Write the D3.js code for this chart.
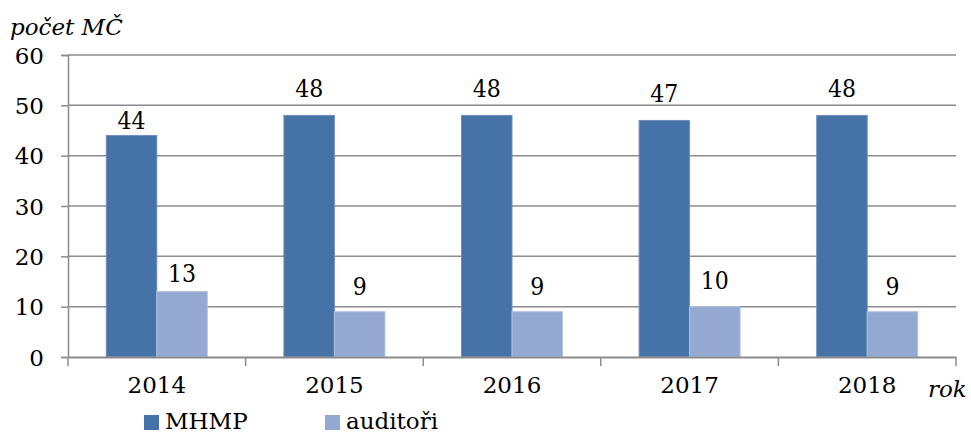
<!DOCTYPE html>
<html><head><meta charset="utf-8">
<script src="https://cdn.jsdelivr.net/npm/d3@7"></script>
<style>body{margin:0;background:#fff}svg{display:block}text{font-family:"DejaVu Serif",serif;fill:#000}
.lbl{font-family:"DejaVu Serif Condensed","DejaVu Serif",serif;font-stretch:condensed}</style>
</head><body>
<svg id="c" width="971" height="434"></svg>
<script>
const categories = ["2014","2015","2016","2017","2018"];
const seriesNames = ["MHMP","auditoři"];
const mhmp = [44,48,48,47,48];
const auditori = [13,9,9,10,9];
const yTicks = [0,10,20,30,40,50,60];
const colors = ["#4572a7","#93a9d1"];
// label lift above bar top (px), per category, per series
const liftMHMP = [7,18,18,18,18];
const liftAud = [10,17,17,18,17];

const svg = d3.select("#c");
const L = 68, R = 956, T = 55, B = 357;
const FS = 23;
const x = d3.scaleBand().domain(categories).range([L,R]).paddingInner(0).paddingOuter(0);
const y = d3.scaleLinear().domain([0,60]).range([B,T]);

// gridlines
svg.append("g").selectAll("line").data(yTicks.filter(d=>d>0)).join("line")
  .attr("x1",L).attr("x2",R).attr("y1",d=>y(d)).attr("y2",d=>y(d))
  .attr("stroke","#8c8c8c").attr("stroke-width",1.5);

// y axis
const ya = d3.axisLeft(y).tickValues(yTicks).tickSize(7).tickPadding(6);
const gy = svg.append("g").attr("transform",`translate(${L},0)`).call(ya);
gy.select(".domain").attr("stroke","#8c8c8c").attr("stroke-width",1.5);
gy.selectAll(".tick line").attr("stroke","#8c8c8c").attr("stroke-width",1.5);
gy.selectAll(".tick text").attr("font-size",FS).attr("dy","0.36em").attr("x",-24);

// bars
const data = categories.map((c,i)=>({c, vals:[{s:seriesNames[0],v:mhmp[i],lift:liftMHMP[i]},{s:seriesNames[1],v:auditori[i],lift:liftAud[i]}]}));
const bw = 50.5;
const g = svg.append("g").selectAll("g").data(data).join("g")
  .attr("transform",d=>`translate(${x(d.c)+x.bandwidth()/2},0)`);
g.selectAll("rect").data(d=>d.vals).join("rect")
  .attr("x",(d,i)=> i===0 ? -bw : 0).attr("width",bw)
  .attr("y",d=>y(d.v)).attr("height",d=>B-y(d.v))
  .attr("fill",(d,i)=>colors[i]).attr("stroke",(d,i)=>i===0?"#6d8fc0":"#b3c3e0").attr("stroke-width",1);
g.selectAll("text").data(d=>d.vals).join("text").attr("class","lbl")
  .attr("x",(d,i)=> i===0 ? -bw/2 : bw/2).attr("y",d=>y(d.v)-d.lift)
  .attr("text-anchor","middle").attr("font-size",24.5).text(d=>d.v);

// x axis
const xa = d3.axisBottom(x).tickSize(0).tickPadding(20);
const gx = svg.append("g").attr("transform",`translate(0,${B})`).call(xa);
gx.select(".domain").attr("stroke","#8c8c8c").attr("stroke-width",2);
gx.selectAll(".tick text").attr("font-size",FS).attr("dy","0.71em");
svg.append("g").selectAll("line").data(d3.range(categories.length+1)).join("line")
  .attr("x1",i=>L+i*x.bandwidth()).attr("x2",i=>L+i*x.bandwidth())
  .attr("y1",B).attr("y2",B+9).attr("stroke","#8c8c8c").attr("stroke-width",1.5);

// axis titles
svg.append("text").attr("x",10).attr("y",35).attr("font-size",FS).attr("font-style","italic").text("počet MČ");
svg.append("text").attr("x",928).attr("y",397).attr("font-size",FS).attr("font-style","italic").text("rok");

// legend
const lx = [144,325];
const lg = svg.append("g").selectAll("g").data(seriesNames).join("g");
lg.append("rect").attr("x",(d,i)=>lx[i]).attr("y",415).attr("width",15).attr("height",15).attr("fill",(d,i)=>colors[i]);
lg.append("text").attr("x",(d,i)=>lx[i]+21).attr("y",429).attr("font-size",FS).text(d=>d);
</script>
</body></html>
